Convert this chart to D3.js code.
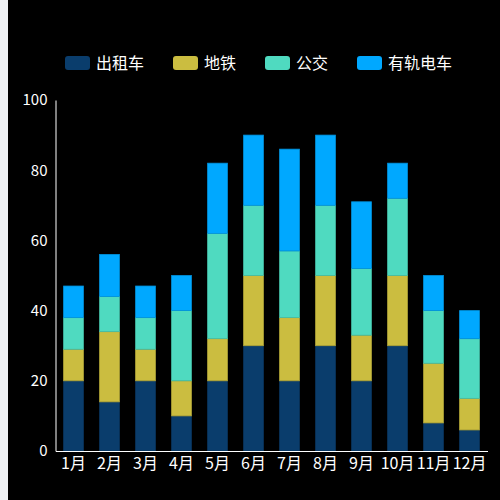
<!DOCTYPE html>
<html><head><meta charset="utf-8">
<script src="https://cdn.jsdelivr.net/npm/d3@7"></script>
<style>
html,body{margin:0;padding:0;background:#f0f2f5;}
svg{display:block;}
</style></head>
<body>
<svg id="chart" width="500" height="500"></svg>
<script>
const months = ["1月","2月","3月","4月","5月","6月","7月","8月","9月","10月","11月","12月"];
const seriesNames = ["出租车","地铁","公交","有轨电车"];
const colors = ["#0a3d6c","#cbbd40","#4fdac0","#00a8ff"];
const taxi  = [20,14,20,10,20,30,20,30,20,30,8,6];
const metro = [9,20,9,10,12,20,18,20,13,20,17,9];
const bus   = [9,10,9,20,30,20,19,20,19,22,15,17];
const tram  = [9,12,9,10,20,20,29,20,19,10,10,8];
const yTicks = [0,20,40,60,80,100];

(function(){
const table = months.map((m,i)=>({month:m,"出租车":taxi[i],"地铁":metro[i],"公交":bus[i],"有轨电车":tram[i]}));
const stacked = d3.stack().keys(seriesNames)(table);

const svg = d3.select("#chart");
svg.append("rect").attr("x",8).attr("y",0).attr("width",492).attr("height",500).attr("fill","#000");

const pLeft=55.5, pRight=487.5, pTop=100, pBottom=451;
const x = d3.scaleBand().domain(months).range([pLeft,pRight]).paddingInner(0.45).paddingOuter(0.225);
const y = d3.scaleLinear().domain([0,100]).range([pBottom,pTop]);
const font = "'Noto Sans CJK SC','Microsoft YaHei',sans-serif";

svg.append("g").selectAll("g").data(stacked).join("g")
  .attr("fill",(d,i)=>colors[i])
  .attr("stroke",(d,i)=>d3.color(colors[i]).darker(0.4))
  .attr("stroke-width",0.8)
  .selectAll("rect").data(d=>d).join("rect")
  .attr("x",d=>x(d.data.month))
  .attr("width",x.bandwidth())
  .attr("y",d=>y(d[1]))
  .attr("height",d=>y(d[0])-y(d[1]));

const yAxis = svg.append("g").attr("transform",`translate(${pLeft},0)`)
  .call(d3.axisLeft(y).tickValues(yTicks).tickSize(0).tickPadding(8));
yAxis.select(".domain").attr("stroke","#fff");
yAxis.selectAll("text").attr("fill","#fff").style("font-size","15px").style("font-family",font);

const xAxis = svg.append("g").attr("transform",`translate(0,${pBottom})`)
  .call(d3.axisBottom(x).tickSize(0).tickPadding(7));
xAxis.select(".domain").attr("stroke","#fff");
xAxis.selectAll("text").attr("fill","#fff").style("font-size","16px").style("font-family",font);

const legendX = [65,173,265,357];
const lg = svg.append("g").selectAll("g").data(seriesNames).join("g")
  .attr("transform",(d,i)=>`translate(${legendX[i]},56)`);
lg.append("rect").attr("width",25).attr("height",14).attr("rx",3).attr("fill",(d,i)=>colors[i]);
lg.append("text").attr("x",31).attr("y",7).attr("dy","0.36em").attr("fill","#fff")
  .style("font-size","16px").style("font-family",font).text(d=>d);
})();
</script>
</body></html>
